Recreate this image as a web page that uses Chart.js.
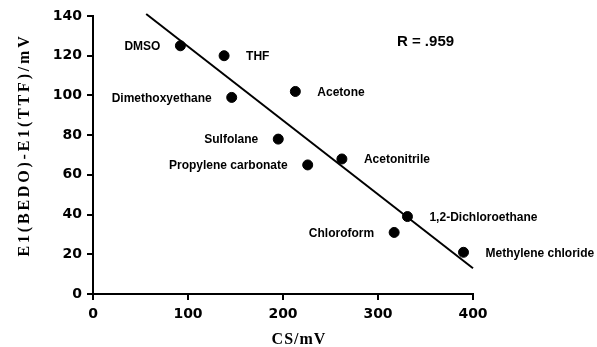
<!DOCTYPE html>
<html>
<head>
<meta charset="utf-8">
<script src="https://cdn.jsdelivr.net/npm/chart.js@4/dist/chart.umd.min.js"></script>
<style>
  html, body { margin: 0; padding: 0; background: #fff; }
  canvas { display: block; }
</style>
</head>
<body>
<canvas id="chart" width="597" height="347"></canvas>
<script>
// Solvent data
const solvents = ["DMSO", "THF", "Dimethoxyethane", "Acetone", "Sulfolane",
    "Propylene carbonate", "Acetonitrile", "1,2-Dichloroethane", "Chloroform",
    "Methylene chloride"];
const csValues = [92, 138, 146, 213, 195, 226, 262, 331, 317, 390];
const deltaE = [125, 120, 99, 102, 78, 65, 68, 39, 31, 21];

// Regression line end points
const fitX = [56, 400];
const fitY = [141, 13];

const xTicks = [0, 100, 200, 300, 400];
const yTicks = [0, 20, 40, 60, 80, 100, 120, 140];

const rText = "R = .959";
const rPos = { x: 350, y: 127 };

// labels that sit on the left of their point
const leftLabels = ["DMSO", "Dimethoxyethane", "Sulfolane", "Propylene carbonate", "Chloroform"];

const labelPlugin = {
    id: "pointLabels",
    afterDatasetsDraw(chart) {
        const ctx = chart.ctx;
        const meta = chart.getDatasetMeta(0);
        ctx.save();
        ctx.fillStyle = "#000";
        ctx.font = "bold 12px 'Liberation Sans', Arial, sans-serif";
        ctx.textBaseline = "middle";
        meta.data.forEach((pt, i) => {
            const name = solvents[i];
            const left = leftLabels.includes(name);
            ctx.textAlign = left ? "right" : "left";
            ctx.fillText(name, pt.x + (left ? -20 : 22), pt.y + 1);
        });

        // correlation note
        const sx = chart.scales.x, sy = chart.scales.y;
        ctx.font = "bold 15px 'Liberation Sans', Arial, sans-serif";
        ctx.textAlign = "center";
        ctx.fillText(rText, sx.getPixelForValue(rPos.x), sy.getPixelForValue(rPos.y));

        // axis titles
        ctx.font = "bold 16px 'Liberation Serif', 'Times New Roman', serif";
        ctx.letterSpacing = "1px";
        ctx.fillText("CS/mV", 299, 340);
        ctx.translate(25, 145);
        ctx.rotate(-Math.PI / 2);
        ctx.letterSpacing = "2.8px";
        ctx.fillText("E1(BEDO)-E1(TTF)/mV", 0, 0);
        ctx.restore();
    }
};

const tickFont = { family: "'DejaVu Sans', sans-serif", size: 14, weight: "bold" };

new Chart(document.getElementById("chart"), {
    type: "scatter",
    data: {
        datasets: [
            {
                data: csValues.map((x, i) => ({ x: x, y: deltaE[i] })),
                backgroundColor: "#000",
                borderColor: "#000",
                pointRadius: 5,
                pointHoverRadius: 5,
            },
            {
                type: "line",
                data: fitX.map((x, i) => ({ x: x, y: fitY[i] })),
                borderColor: "#000",
                borderWidth: 2,
                pointRadius: 0,
                fill: false,
                clip: false,
            },
        ],
    },
    options: {
        responsive: false,
        animation: false,
        layout: { padding: { top: 16, right: 124, left: 0, bottom: 0 } },
        plugins: {
            legend: { display: false },
            tooltip: { enabled: false },
        },
        scales: {
            x: {
                type: "linear",
                min: 0,
                max: 400,
                afterBuildTicks: (s) => { s.ticks = xTicks.map((v) => ({ value: v })); },
                afterFit: (s) => { s.height = 53; },
                ticks: { color: "#000", font: tickFont, padding: 6, maxRotation: 0, autoSkip: false },
                grid: { drawOnChartArea: false, drawTicks: true, tickLength: 6, color: "#000", lineWidth: 2 },
                border: { display: true, color: "#000", width: 2 },
            },
            y: {
                min: 0,
                max: 140,
                afterBuildTicks: (s) => { s.ticks = yTicks.map((v) => ({ value: v })); },
                afterFit: (s) => { s.width = 93; },
                ticks: { color: "#000", font: tickFont, padding: 5, autoSkip: false },
                grid: { drawOnChartArea: false, drawTicks: true, tickLength: 6, color: "#000", lineWidth: 2 },
                border: { display: true, color: "#000", width: 2 },
            },
        },
    },
    plugins: [labelPlugin],
});
</script>
</body>
</html>
